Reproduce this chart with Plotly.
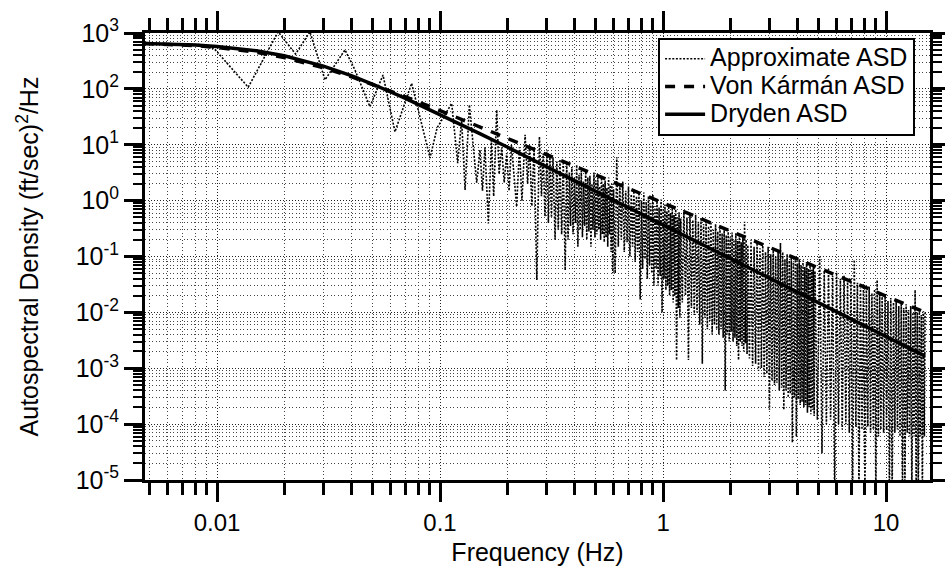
import plotly.graph_objects as go

# ---------------- data ----------------
model_freq = [0.0047, 0.006, 0.008, 0.01, 0.012, 0.015, 0.02, 0.025, 0.03, 0.04, 0.05,
              0.07, 0.1, 0.15, 0.2, 0.3, 0.5, 0.7, 1.0, 1.5, 2.0, 3.0, 5.0, 7.0, 10.0, 14.96]
dryden_asd = [653, 638, 608, 574, 537, 481, 391, 316, 256, 172, 121,
              67.8, 35, 16.0, 9.1, 4.08, 1.47, 0.753, 0.369, 0.164, 0.0923, 0.041, 0.0148, 0.00754, 0.00369, 0.00165]
vonkarman_asd = [647, 628, 593, 553, 512, 452, 363, 292, 238, 165, 120,
                 72, 41, 21.2, 13.2, 6.75, 2.89, 1.65, 0.909, 0.463, 0.287, 0.146, 0.0623, 0.0356, 0.0197, 0.0100]

# Approximate ASD, low-frequency part (individual wiggles)
approx_freq_low = [0.0047, 0.0055, 0.0065, 0.0075, 0.0083, 0.009, 0.0097, 0.0138, 0.0188, 0.0225,
                   0.0261, 0.0305, 0.0375, 0.0415, 0.0485, 0.0555, 0.0628, 0.0746, 0.0902, 0.097,
                   0.1128, 0.120, 0.125, 0.1295, 0.1354, 0.146, 0.151, 0.155, 0.159, 0.1647,
                   0.170, 0.174, 0.1796, 0.184, 0.189, 0.194, 0.199, 0.204, 0.209, 0.2206,
                   0.227, 0.233, 0.2407, 0.247, 0.252, 0.258, 0.264, 0.2716, 0.279, 0.285,
                   0.290, 0.2956, 0.302, 0.306, 0.311, 0.316, 0.321, 0.328, 0.334, 0.339,
                   0.345, 0.351, 0.357, 0.364]
approx_asd_low = [650, 650, 640, 625, 620, 560, 530, 107, 1050, 420,
                  1050, 145, 500, 220, 48, 177, 17, 126, 5.8, 20,
                  55, 4.7, 28, 1.55, 52, 2.1, 8.1, 1.5, 9, 0.39,
                  12, 1.2, 42, 3, 9, 2.1, 7.1, 1.5, 10, 0.78,
                  9, 1.0, 15, 2.0, 10, 0.8, 9, 0.038, 14, 1.2,
                  7, 0.52, 8, 0.4, 6.1, 0.5, 6, 0.2, 5, 0.3,
                  5.5, 0.25, 5.0, 0.057]

# Approximate ASD, dense part: spectral peaks and troughs
peak_freq_a = [0.37, 0.38, 0.39, 0.40, 0.41, 0.42, 0.43, 0.44, 0.45, 0.46, 0.47, 0.48,
               0.49, 0.50, 0.51, 0.52, 0.53, 0.54, 0.55, 0.56, 0.57, 0.58, 0.59, 0.60]
peak_asd_a = [4.5, 3.2, 4.0, 2.6, 4.4, 2.9, 3.4, 2.2, 3.6, 2.6, 2.8, 2.0,
              3.2, 2.3, 2.6, 1.8, 2.8, 2.0, 2.3, 1.7, 2.6, 1.9, 2.0, 1.6]
trough_freq_a = [0.375, 0.385, 0.395, 0.405, 0.415, 0.425, 0.435, 0.445, 0.455, 0.465, 0.475, 0.485,
                 0.495, 0.505, 0.515, 0.525, 0.535, 0.545, 0.555, 0.565, 0.575, 0.585, 0.595]
trough_asd_a = [0.2, 0.35, 0.25, 0.4, 0.15, 0.3, 0.22, 0.35, 0.2, 0.28, 0.15, 0.3,
                0.22, 0.25, 0.3, 0.2, 0.25, 0.18, 0.22, 0.15, 0.25, 0.12, 0.05]

peak_freq_b = [0.62, 0.64, 0.66, 0.68, 0.70, 0.72, 0.74, 0.76, 0.78, 0.80, 0.82, 0.84, 0.86, 0.88, 0.90,
               0.92, 0.94, 0.96, 0.98, 1.00, 1.02, 1.04, 1.06, 1.08, 1.10, 1.12, 1.14, 1.16, 1.18, 1.20]
peak_asd_b = [6.0, 1.9, 2.2, 1.5, 1.8, 1.3, 1.6, 1.2, 1.4, 1.0, 1.4, 0.95, 1.2, 0.9, 1.3,
              0.8, 1.0, 0.75, 1.05, 0.7, 0.85, 0.65, 0.8, 0.6, 0.75, 0.55, 0.7, 0.5, 0.62, 0.48]
trough_freq_b = [0.61, 0.63, 0.65, 0.67, 0.69, 0.71, 0.73, 0.75, 0.77, 0.79, 0.81, 0.83, 0.85, 0.87, 0.89,
                 0.91, 0.93, 0.95, 0.97, 0.99, 1.01, 1.03, 1.05, 1.07, 1.09, 1.11, 1.13, 1.15, 1.17, 1.19]
trough_asd_b = [0.05, 0.15, 0.2, 0.12, 0.18, 0.1, 0.15, 0.08, 0.12, 0.017, 0.06, 0.09, 0.04, 0.07, 0.05,
                0.03, 0.06, 0.03, 0.045, 0.01, 0.04, 0.025, 0.03, 0.02, 0.025, 0.015, 0.02, 0.0014, 0.012, 0.008]

peak_freq_c = [1.24, 1.28, 1.32, 1.36, 1.40, 1.44, 1.48, 1.52, 1.56, 1.60, 1.64, 1.68, 1.72, 1.76, 1.80,
               1.84, 1.88, 1.92, 1.96, 2.00, 2.04, 2.08, 2.12, 2.16, 2.20, 2.24, 2.28, 2.32, 2.36, 2.40]
peak_asd_c = [0.68, 0.5, 0.6, 0.45, 0.56, 0.42, 0.5, 0.38, 0.46, 0.35, 0.42, 0.3, 0.38, 0.28, 0.35,
              0.26, 0.32, 0.24, 0.3, 0.22, 0.27, 0.2, 0.26, 0.19, 0.24, 0.18, 0.22, 0.42, 0.2, 0.16]
trough_freq_c = [1.22, 1.26, 1.30, 1.34, 1.38, 1.42, 1.46, 1.50, 1.54, 1.58, 1.62, 1.66, 1.70, 1.74, 1.78,
                 1.82, 1.86, 1.90, 1.94, 1.98, 2.02, 2.06, 2.10, 2.14, 2.18, 2.22, 2.26, 2.30, 2.34, 2.38]
trough_asd_c = [0.015, 0.02, 0.0014, 0.012, 0.009, 0.01, 0.006, 0.0012, 0.008, 0.005, 0.007, 0.004, 0.006, 0.005, 0.004,
                0.005, 0.0035, 0.0004, 0.004, 0.003, 0.0045, 0.003, 0.0035, 0.0025, 0.0014, 0.003, 0.0025, 0.002, 0.0028, 0.0018]

peak_freq_d = [2.48, 2.56, 2.64, 2.72, 2.80, 2.88, 2.96, 3.04, 3.12, 3.20, 3.28, 3.36, 3.44, 3.52, 3.60,
               3.68, 3.76, 3.84, 3.92, 4.00, 4.08, 4.16, 4.24, 4.32, 4.40, 4.48, 4.56, 4.64, 4.72, 4.80]
peak_asd_d = [0.2, 0.15, 0.19, 0.14, 0.17, 0.12, 0.15, 0.11, 0.14, 0.1, 0.13, 0.175, 0.12, 0.09, 0.11,
              0.085, 0.1, 0.08, 0.095, 0.075, 0.09, 0.07, 0.085, 0.065, 0.08, 0.06, 0.075, 0.058, 0.07, 0.055]
trough_freq_d = [2.44, 2.52, 2.60, 2.68, 2.76, 2.84, 2.92, 3.00, 3.08, 3.16, 3.24, 3.32, 3.40, 3.48, 3.56,
                 3.64, 3.72, 3.80, 3.88, 3.96, 4.04, 4.12, 4.20, 4.28, 4.36, 4.44, 4.52, 4.60, 4.68, 4.76]
trough_asd_d = [0.0015, 0.0011, 0.0012, 0.0009, 0.001, 0.0007, 0.0008, 0.00018, 0.0006, 0.0005, 0.00055, 0.0004, 0.00045, 0.00018, 0.0004,
                0.0003, 0.00035, 0.000047, 0.0003, 0.00006, 0.00028, 0.00022, 0.00025, 0.0002, 0.00022, 0.00016, 0.0002, 0.00015, 0.00018, 0.00014]

peak_freq_e = [5.04, 5.28, 5.52, 5.76, 6.00, 6.24, 6.48, 6.72, 6.96, 7.20,
               7.44, 7.68, 7.92, 8.16, 8.40, 8.64, 8.88, 9.12, 9.36, 9.60]
peak_asd_e = [0.1, 0.055, 0.06, 0.045, 0.052, 0.04, 0.045, 0.035, 0.04, 0.087,
              0.034, 0.028, 0.032, 0.025, 0.029, 0.022, 0.026, 0.038, 0.022, 0.019]
trough_freq_e = [4.92, 5.16, 5.40, 5.64, 5.88, 6.12, 6.36, 6.60, 6.84, 7.08,
                 7.32, 7.56, 7.80, 8.04, 8.28, 8.52, 8.76, 9.00, 9.24, 9.48]
trough_asd_e = [0.00012, 0.00003, 0.0001, 0.00012, 0.000005, 0.0001, 0.00008, 0.0001, 0.00007, 0.000005,
                0.00009, 0.000006, 0.00008, 0.000005, 0.00009, 0.00007, 0.00008, 0.000005, 0.00006, 0.00008]

peak_freq_f = [9.90, 10.20, 10.50, 10.80, 11.10, 11.40, 11.70, 12.00, 12.30, 12.60, 12.90, 13.20,
               13.50, 13.80, 14.10, 14.40, 14.70, 14.96]
peak_asd_f = [0.02, 0.016, 0.018, 0.015, 0.017, 0.013, 0.015, 0.012, 0.014, 0.011, 0.013, 0.01,
              0.025, 0.01, 0.011, 0.009, 0.0105, 0.01]
trough_freq_f = [9.75, 10.05, 10.35, 10.65, 10.95, 11.25, 11.55, 11.85, 12.15, 12.45, 12.75, 13.05,
                 13.35, 13.65, 13.95, 14.25, 14.55, 14.85]
trough_asd_f = [0.00007, 0.00008, 0.000005, 0.000006, 0.00007, 0.00008, 0.00006, 0.000005, 0.000005, 0.00007, 0.00006, 0.000005,
                0.00006, 0.000005, 0.000006, 0.00006, 0.000005, 0.00006]

x_tick_vals = [0.01, 0.1, 1, 10]
x_tick_text = ["0.01", "0.1", "1", "10"]
y_exponents = [-5, -4, -3, -2, -1, 0, 1, 2, 3]
series_names = ["Approximate ASD", "Von Kármán ASD", "Dryden ASD"]

# ---------------- assemble ----------------
freq_parts = [approx_freq_low, peak_freq_a, trough_freq_a, peak_freq_b, trough_freq_b, peak_freq_c, trough_freq_c,
              peak_freq_d, trough_freq_d, peak_freq_e, trough_freq_e, peak_freq_f, trough_freq_f]
asd_parts = [approx_asd_low, peak_asd_a, trough_asd_a, peak_asd_b, trough_asd_b, peak_asd_c, trough_asd_c,
             peak_asd_d, trough_asd_d, peak_asd_e, trough_asd_e, peak_asd_f, trough_asd_f]
pairs = []
for fs, vs in zip(freq_parts, asd_parts):
    assert len(fs) == len(vs)
    pairs.extend(zip(fs, vs))
pairs.sort(key=lambda p: p[0])
approx_freq = [p[0] for p in pairs]
approx_asd = [p[1] for p in pairs]

y_tick_vals = [10.0 ** e for e in y_exponents]
y_tick_text = ["10<sup>%d</sup>" % e for e in y_exponents]
minor_x = [k * 10.0 ** n for n in range(-3, 2) for k in range(2, 10)]
minor_y = [k * 10.0 ** n for n in range(-5, 3) for k in range(2, 10)]

FONT = "Liberation Sans, Arial, Helvetica, sans-serif"


def legend_label(text):
    # big legend text while keeping the legend rows tight like the reference
    return '<span style="font-size:25px">%s</span>' % text


fig = go.Figure()
fig.add_trace(go.Scatter(x=approx_freq, y=approx_asd, mode="lines", name=legend_label(series_names[0]),
                         line=dict(color="black", width=1.6, dash="2px,1.6px")))
fig.add_trace(go.Scatter(x=model_freq, y=vonkarman_asd, mode="lines", name=legend_label(series_names[1]),
                         line=dict(color="black", width=3.5, dash="10px,9px")))
fig.add_trace(go.Scatter(x=model_freq, y=dryden_asd, mode="lines", name=legend_label(series_names[2]),
                         line=dict(color="black", width=3.5)))

grid_common = dict(showgrid=True, gridcolor="#222", gridwidth=1, griddash="1px,2px")

fig.update_xaxes(type="log", range=[-2.3229, 1.197],
                 tickmode="array", tickvals=x_tick_vals, ticktext=x_tick_text,
                 ticks="outside", ticklen=19, tickwidth=3, tickcolor="black",
                 showline=True, linewidth=3, linecolor="black", mirror="ticks",
                 tickfont=dict(size=24, color="black", family=FONT),
                 title=dict(text="Frequency (Hz)", font=dict(size=25, color="black", family=FONT), standoff=9),
                 minor=dict(tickmode="array", tickvals=minor_x, ticks="outside", ticklen=12, tickwidth=2.5,
                            tickcolor="black", showgrid=True, gridcolor="#444", gridwidth=1, griddash="1px,2.5px"),
                 **grid_common)
fig.update_yaxes(type="log", range=[-5, 3],
                 tickmode="array", tickvals=y_tick_vals, ticktext=y_tick_text,
                 ticks="outside", ticklen=18, tickwidth=3, tickcolor="black",
                 showline=True, linewidth=3, linecolor="black", mirror="ticks",
                 tickfont=dict(size=25, color="black", family=FONT),
                 title=dict(text="Autospectral Density (ft/sec)<sup>2</sup>/Hz",
                            font=dict(size=25, color="black", family=FONT), standoff=30),
                 minor=dict(tickmode="array", tickvals=minor_y, ticks="outside", ticklen=9, tickwidth=2,
                            tickcolor="black", showgrid=True, gridcolor="#444", gridwidth=1, griddash="1px,2.5px"),
                 **grid_common)

fig.update_layout(
    width=945, height=573,
    margin=dict(l=145, r=15, t=33, b=93, autoexpand=False),
    paper_bgcolor="white", plot_bgcolor="white",
    font=dict(family=FONT, color="black"),
    showlegend=True,
    legend=dict(x=0.981, y=0.989, xanchor="right", yanchor="top",
                bgcolor="white", bordercolor="black", borderwidth=2,
                font=dict(size=19, color="black", family=FONT),
                itemwidth=40, tracegroupgap=0),
)

fig.write_html("out.html")
